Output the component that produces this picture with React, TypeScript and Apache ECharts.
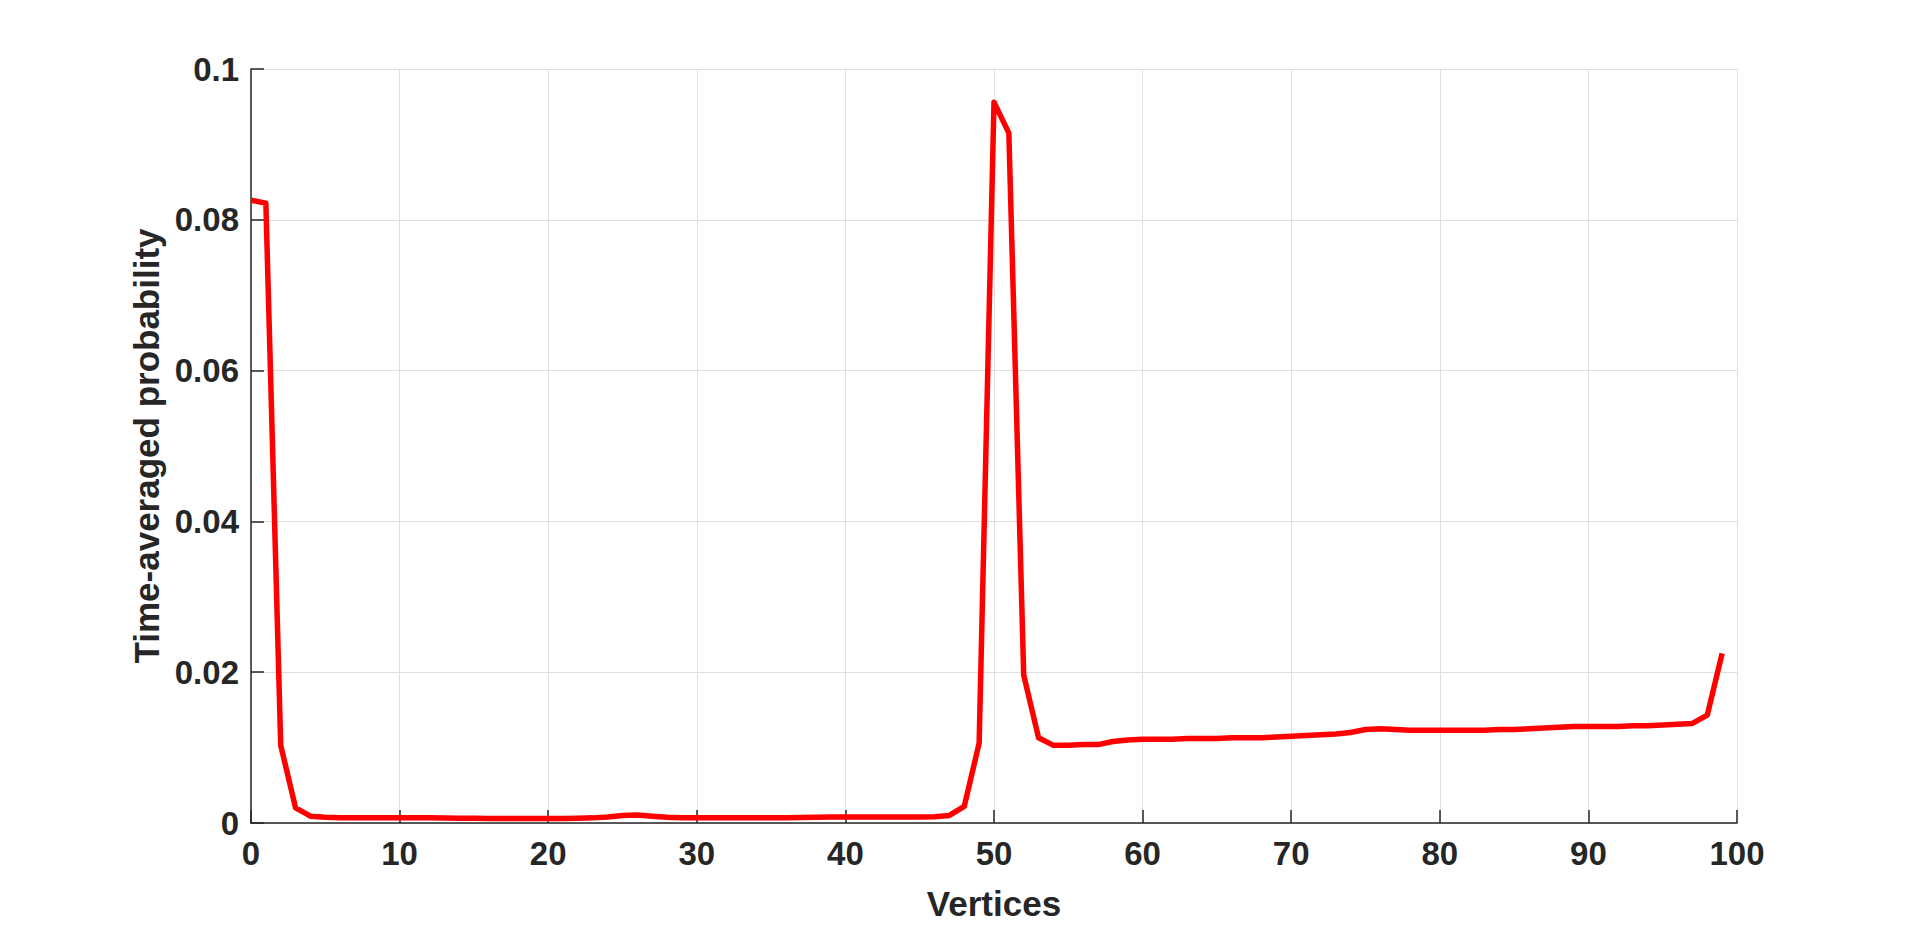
import React, { useEffect, useRef } from "react";
import * as echarts from "echarts";

const vertices: number[] = Array.from({ length: 100 }, (_, i) => i);

const probability: number[] = [
  0.0826, 0.0822, 0.0103, 0.0020, 0.0009, 0.00075, 0.0007, 0.0007, 0.0007, 0.0007,
  0.0007, 0.0007, 0.00068, 0.00065, 0.00063, 0.00062, 0.0006, 0.0006, 0.0006, 0.0006,
  0.0006, 0.0006, 0.00062, 0.00068, 0.0008, 0.001, 0.00105, 0.0009, 0.00075, 0.0007,
  0.00068, 0.00068, 0.00068, 0.00068, 0.00068, 0.0007, 0.0007, 0.00072, 0.00075, 0.00078,
  0.0008, 0.0008, 0.0008, 0.0008, 0.0008, 0.0008, 0.00082, 0.001, 0.0022, 0.0106,
  0.0956, 0.0915, 0.0196, 0.0113, 0.0103, 0.0103, 0.0104, 0.0104, 0.0108, 0.0110,
  0.0111, 0.0111, 0.0111, 0.0112, 0.0112, 0.0112, 0.0113, 0.0113, 0.0113, 0.0114,
  0.0115, 0.0116, 0.0117, 0.0118, 0.0120, 0.0124, 0.0125, 0.0124, 0.0123, 0.0123,
  0.0123, 0.0123, 0.0123, 0.0123, 0.0124, 0.0124, 0.0125, 0.0126, 0.0127, 0.0128,
  0.0128, 0.0128, 0.0128, 0.0129, 0.0129, 0.0130, 0.0131, 0.0132, 0.0143, 0.0225,
];

const xAxisName = "Vertices";
const yAxisName = "Time-averaged probability";

const FONT = "'Liberation Sans', Arial, Helvetica, sans-serif";
const TEXT = "#262626";

export default function App() {
  const ref = useRef<HTMLDivElement>(null);

  useEffect(() => {
    if (!ref.current) return;
    const chart = echarts.init(ref.current, undefined, { renderer: "svg" });
    chart.setOption({
      animation: false,
      backgroundColor: "#ffffff",
      grid: {
        left: 251,
        top: 69,
        right: 183,
        bottom: 103,
        containLabel: false,
        outerBoundsMode: "none",
      },
      xAxis: {
        type: "value",
        min: 0,
        max: 100,
        interval: 10,
        name: xAxisName,
        nameLocation: "middle",
        nameGap: 63,
        nameTextStyle: { fontFamily: FONT, fontWeight: "bold", fontSize: 35, color: TEXT },
        axisLine: { show: true, onZero: false, lineStyle: { color: TEXT, width: 1.5 } },
        axisTick: { show: true, inside: true, length: 13, lineStyle: { color: TEXT, width: 1.5 } },
        axisLabel: { fontFamily: FONT, fontWeight: "bold", fontSize: 33, color: TEXT, margin: 14 },
        splitLine: { show: true, lineStyle: { color: "#dfdfdf", width: 1 } },
      },
      yAxis: {
        type: "value",
        min: 0,
        max: 0.1,
        interval: 0.02,
        name: yAxisName,
        nameLocation: "middle",
        nameRotate: 90,
        nameGap: 81,
        nameTextStyle: { fontFamily: FONT, fontWeight: "bold", fontSize: 35, color: TEXT },
        axisLine: { show: true, onZero: false, lineStyle: { color: TEXT, width: 1.5 } },
        axisTick: { show: true, inside: true, length: 13, lineStyle: { color: TEXT, width: 1.5 } },
        axisLabel: {
          fontFamily: FONT,
          fontWeight: "bold",
          fontSize: 33,
          color: TEXT,
          margin: 12,
          formatter: (v: number) => String(Math.round(v * 100) / 100),
        },
        splitLine: { show: true, lineStyle: { color: "#dfdfdf", width: 1 } },
      },
      series: [
        {
          type: "line",
          data: vertices.map((v, i) => [v, probability[i]]),
          showSymbol: false,
          symbol: "none",
          lineStyle: { color: "#ff0000", width: 5.5, join: "round" },
          itemStyle: { color: "#ff0000" },
        },
      ],
    });
    return () => chart.dispose();
  }, []);

  return (
    <div
      ref={ref}
      style={{ position: "absolute", left: 0, top: 0, width: 1920, height: 926 }}
    />
  );
}
